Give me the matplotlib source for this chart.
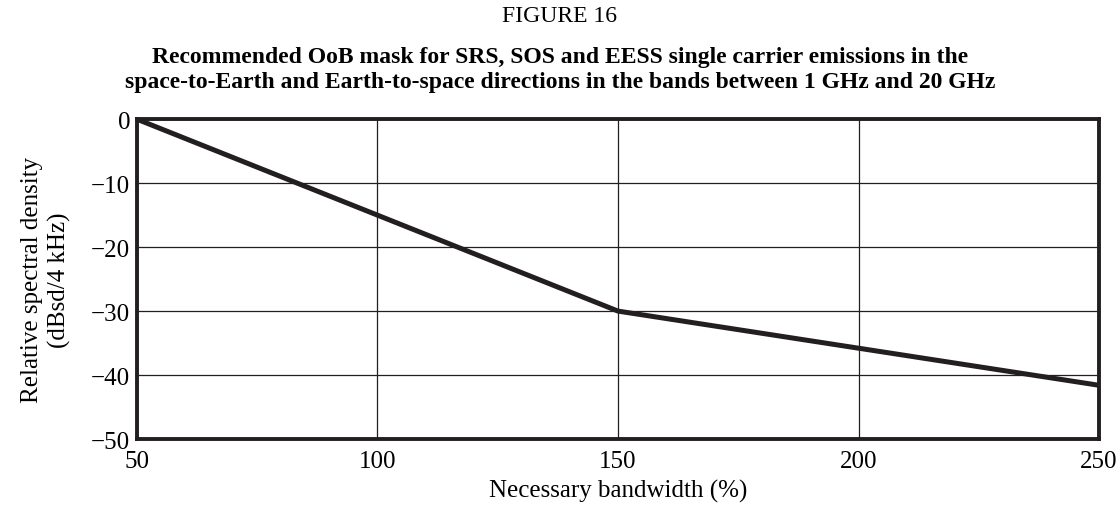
import matplotlib.pyplot as plt

plt.rcParams["font.family"] = ["Liberation Serif", "DejaVu Serif"]

bandwidth = [50, 150, 250]
density = [0, -30, -41.6]
x_ticks = [50, 100, 150, 200, 250]
y_ticks = [0, -10, -20, -30, -40, -50]

fig = plt.figure(figsize=(11.2, 5.06), dpi=100)
ax = fig.add_axes([0.1223, 0.1304, 0.859, 0.632])

ax.plot(bandwidth, density, color="#231f20", lw=3.6, solid_capstyle="butt")
ax.set_xlim(50, 250)
ax.set_ylim(-50, 0)
ax.set_xticks(x_ticks)
ax.set_yticks(y_ticks)
ax.set_yticklabels([str(v).replace("-", "\u2212") for v in y_ticks])
ax.grid(color="#231f20", lw=0.9)
ax.tick_params(length=0, labelsize=18)
ax.tick_params(axis="x", pad=8)
ax.tick_params(axis="y", pad=5)
for s in ax.spines.values():
    s.set_linewidth(2.8)
    s.set_color("#231f20")

ax.set_xlabel("Necessary bandwidth (%)", fontsize=18, labelpad=5)
ax.set_ylabel("Relative spectral density\n(dBsd/4 kHz)", fontsize=18,
              labelpad=14, linespacing=1.3)

fig.text(0.5, 1 - 16 / 506, "FIGURE 16", ha="center", va="center", fontsize=17)
fig.text(0.5, 1 - 70 / 506,
         "Recommended OoB mask for SRS, SOS and EESS single carrier emissions in the\n"
         "space-to-Earth and Earth-to-space directions in the bands between 1 GHz and 20 GHz",
         ha="center", va="center", fontsize=17, fontweight="bold", linespacing=1.2)

fig.savefig("out.png", dpi=100)
